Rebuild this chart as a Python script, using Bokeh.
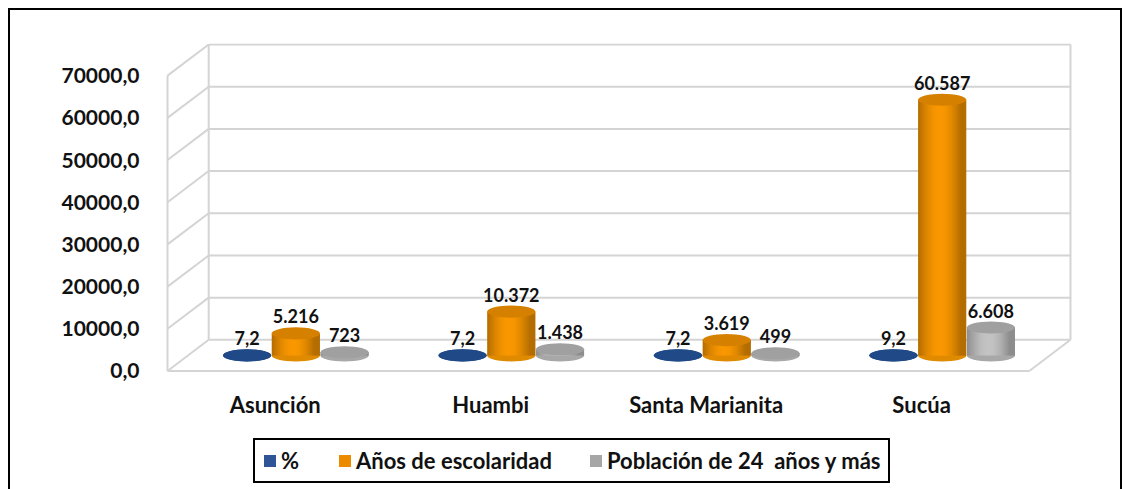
import math
from bokeh.plotting import figure
from bokeh.models import Range1d, FixedTicker, ColumnDataSource, Legend, LegendItem
from bokeh.embed import file_html
from bokeh.resources import INLINE
from bokeh.core.properties import value

# ---------------- data ----------------
categories = ["Asunción", "Huambi", "Santa Marianita", "Sucúa"]
pct = [7.2, 7.2, 7.2, 9.2]
anos = [5216, 10372, 3619, 60587]
pob = [723, 1438, 499, 6608]
series_names = ["%", "Años de escolaridad", "Población de 24  años y más"]
y_ticks = [0, 10000, 20000, 30000, 40000, 50000, 60000, 70000]

# ---------------- geometry / style ----------------
PXX = 214.5            # px per category unit
UPY = 1 / 0.0042       # value units per px
DX = 41 / PXX          # depth offset x
DY = 31 * UPY          # depth offset y
CW = 48 / PXX          # cylinder width
EH = 12 * UPY          # ellipse height
OFF = 48.5 / PXX       # series spacing
FONT = "Lato"

body_rgb = [(40, 78, 140), (250, 152, 0), (196, 196, 196)]
top_col = ["#1F4987", "#D68000", "#A0A0A0"]
bottom_col = ["#1F4987", "#E08A00", "#A8A8A8"]
legend_col = ["#2F5597", "#EC8B00", "#A6A6A6"]

# frame: page x 165..1068, page y 43..489 ; value 0 at page y 369, x 0 at page x 167
x0, x1 = -2 / PXX, (1068 - 167) / PXX
y0, y1 = -(489 - 369) * UPY, (369 - 43) * UPY

p = figure(width=1114, height=481, output_backend="svg", toolbar_location=None,
           x_range=Range1d(x0, x1), y_range=Range1d(y0, y1),
           min_border_left=155, min_border_right=52, min_border_top=33, min_border_bottom=0,
           background_fill_color="white", border_fill_color="white",
           styles={"margin-left": "8px", "margin-top": "8px", "box-sizing": "border-box",
                   "border-top": "2px solid #000", "border-left": "2px solid #000",
                   "border-right": "2px solid #000"})
p.outline_line_color = None
p.xgrid.visible = False
p.ygrid.visible = False
p.xaxis.visible = False

# ---------------- 3D box ----------------
gc = "#D4D4D4"
xs0, ys0, xs1, ys1 = [], [], [], []
for v in y_ticks:
    xs0.append(DX); ys0.append(DY + v); xs1.append(4 + DX); ys1.append(DY + v)
    xs0.append(0); ys0.append(v); xs1.append(DX); ys1.append(DY + v)
for (a, b, c, d) in [(DX, DY, DX, DY + 70000), (4 + DX, DY, 4 + DX, DY + 70000),
                     (0, 0, 0, 70000), (0, 0, 4, 0), (4, 0, 4 + DX, DY)]:
    xs0.append(a); ys0.append(b); xs1.append(c); ys1.append(d)
p.segment(x0=xs0, y0=ys0, x1=xs1, y1=ys1, line_color=gc, line_width=2)

# ---------------- cylinders ----------------
series_vals = [pct, anos, pob]
base = DY / 2
NS = 30
draw_order = [0, 2, 1]
for s in draw_order:
    vals = series_vals[s]
    lefts, rights, bots, tops, cols = [], [], [], [], []
    cxs = []
    for i, v in enumerate(vals):
        cx = i + 0.5 + DX / 2 + (s - 1) * OFF
        cxs.append(cx)
        L = cx - CW / 2
        sw = CW / NS
        for j in range(NS):
            t = (j + 0.5) / NS
            f = 0.72 + 0.28 * math.sin(math.pi * min(1.0, t * 1.12))
            r, g, b = body_rgb[s]
            cols.append("#%02x%02x%02x" % (min(255, int(r * f)), min(255, int(g * f)), min(255, int(b * f))))
            lefts.append(L + j * sw)
            rights.append(L + (j + 1) * sw + (0.8 * sw if j < NS - 1 else 0))
            bots.append(base)
            tops.append(base + v)
    tops_c = [base + v for v in vals]
    p.ellipse(x=cxs, y=[base] * len(vals), width=CW, height=EH,
              fill_color=bottom_col[s], line_color=None)
    p.quad(left=lefts, right=rights, bottom=bots, top=tops, fill_color=cols, line_color=None)
    p.ellipse(x=cxs, y=tops_c, width=CW, height=EH,
              fill_color=top_col[s], line_color=None)

# data labels
for s in range(3):
    vals = series_vals[s]
    if s == 0:
        labs = [("%.1f" % v).replace(".", ",") for v in vals]
    else:
        labs = [("{:,}".format(v)).replace(",", ".") for v in vals]
    src = ColumnDataSource(dict(
        x=[i + 0.5 + DX / 2 + (s - 1) * OFF for i in range(len(vals))],
        y=[base + v for v in vals], t=labs))
    p.text(x="x", y="y", text="t", source=src, y_offset=-17,
           text_align="center", text_baseline="middle",
           text_font=value(FONT), text_font_style="bold", text_font_size="18px",
           text_color="#111111")

# category labels (placed below the floor through the data scale)
cat_src = ColumnDataSource(dict(x=[i + 0.5 for i in range(len(categories))],
                                y=[-33 * UPY] * len(categories), t=categories))
p.text(x="x", y="y", text="t", source=cat_src, text_align="center", text_baseline="middle",
       text_font=value(FONT), text_font_style="bold", text_font_size="22px", text_color="#111111")

# ---------------- y axis ----------------
p.yaxis.ticker = FixedTicker(ticks=y_ticks)
p.yaxis.major_label_overrides = {v: f"{v},0" for v in y_ticks}
p.yaxis.axis_line_color = None
p.yaxis.major_tick_line_color = None
p.yaxis.minor_tick_line_color = None
p.yaxis.major_label_standoff = 20
p.yaxis.major_label_text_font = FONT
p.yaxis.major_label_text_font_style = "bold"
p.yaxis.major_label_text_font_size = "21px"
p.yaxis.major_label_text_color = "#111111"

# ---------------- legend ----------------
items = []
nan = float("nan")
for s in range(3):
    r = p.quad(left=[nan], right=[nan], bottom=[nan], top=[nan],
               fill_color=legend_col[s], line_color=None)
    items.append(LegendItem(label=series_names[s], renderers=[r]))
leg = Legend(items=items, orientation="horizontal", location=(88, 8),
             margin=0, padding=7, spacing=36, label_standoff=4,
             glyph_width=15, glyph_height=15,
             label_text_font=FONT, label_text_font_style="bold", label_text_font_size="22px",
             label_text_color="#111111",
             border_line_color="#000000", border_line_width=2, border_line_alpha=1.0,
             background_fill_color="white", background_fill_alpha=1.0)
p.add_layout(leg)

open("out.html", "w").write(file_html(p, INLINE))
